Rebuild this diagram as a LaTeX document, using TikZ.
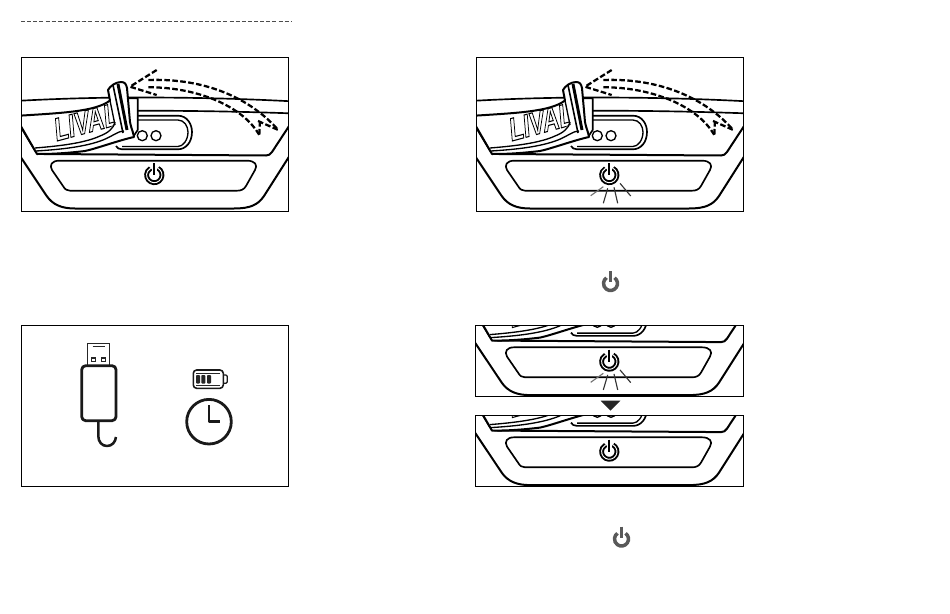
\documentclass[tikz,border=0pt]{standalone}
\usepackage{fontspec}
\setsansfont{Liberation Sans}
\usetikzlibrary{calc}
\newcommand{\outlinetext}[1]{\special{pdf:code q 1 Tr 0.8 w}#1\special{pdf:code Q}}
\tikzset{
  panelbox/.style={draw=black,line width=0.8pt},
  bandline/.style={draw=black,line width=1.25pt,line join=round},
  flapline/.style={draw=black,fill=white,line width=1.5pt,line join=round},
  thinline/.style={draw=black,line width=1pt},
  plugline/.style={draw=black!85,line width=0.6pt},
  movearrow/.style={draw=black,line width=1.7pt,dash pattern={on 4.2pt off 1.8pt}},
  rayline/.style={draw=black!80,line width=0.85pt},
  usbline/.style={draw=black!90,line width=2.1pt,line join=round},
  greyicon/.style={draw=black!65,line width=2.6pt}
}
% lower part of the helmet light, drawn at the place of the first panel
\newcommand{\lightfront}{%
  %Outer shell
  \draw [bandline,line width=1.5pt] (18,153) -- (46.7,196) .. controls (53,205) and (62,208.5) .. (75,208.5) -- (234,208.5) .. controls (250,208.5) and (258,205) .. (264,196) -- (292,152);
  %Button plate
  \draw [bandline] (59,160.7) -- (247,160.7) .. controls (255,160.7) and (258,165) .. (255,170) -- (246,186) .. controls (244,189.5) and (241,190.7) .. (237,190.7) -- (70,190.7) .. controls (67,190.7) and (65,189.5) .. (63,186) -- (52,170) .. controls (49,165) and (52,160.7) .. (59,160.7) -- cycle;
  \powerring{154.3}{175}
}
\newcommand{\powerring}[2]{%
  \draw [line width=3.6pt,black] ([shift={(-62:7.7)}]#1,#2) arc [start angle=-62,end angle=242,radius=7.7];
  \draw [line width=0.7pt,white] ([shift={(-62:7.7)}]#1,#2) arc [start angle=-62,end angle=242,radius=7.7];
  \draw [line width=3.4pt,white] (#1,#2-12) -- (#1,#2);
  \draw [line width=1.6pt,black] (#1,#2-12) -- (#1,#2);
}
\newcommand{\lightrear}{%
  %Top of the shell
  \draw [bandline] (15,101) .. controls (60,98.5) and (100,97.5) .. (140,97.5) .. controls (190,97.5) and (240,98.5) .. (295,101.5);
  \draw [bandline] (138,110.7) .. controls (190,110.7) and (240,111.5) .. (295,113.5);
  \draw [bandline,line width=1.5pt] (15,117) -- (33,147) .. controls (36,153) and (38,154) .. (44,154) -- (266,155.5) .. controls (269,155.5) and (270,154.5) .. (272,152) -- (295,117);
  %Pill with the two lamps
  \draw [bandline] (137,115.7) -- (178,115.7) .. controls (187,115.7) and (192,124) .. (192,132) .. controls (192,142) and (186,149.3) .. (178,149.3) -- (122,149.3) .. controls (119,149.3) and (117,148) .. (116,146);
  \draw [thinline] (137,120) -- (178,120) .. controls (184,120) and (188,126) .. (188,132) .. controls (188,140) and (183,146.5) .. (178,146.5) -- (122,146.5);
  \draw [thinline] (142.3,135.7) circle [radius=5];
  \draw [thinline] (156,135.7) circle [radius=5];
  %Hinge
  \draw [bandline] (125,98.3) -- (137.7,98.3) -- (137.7,130) -- (133,137);
  %Rubber flap
  \draw [flapline] (15,116) .. controls (60,113) and (95,112) .. (110,100.5) -- (108,90) .. controls (110,86) and (116,82) .. (121,82) .. controls (125,82) and (126,84) .. (127,88) -- (130,122) .. controls (131,128) and (133,131) .. (134,137) .. controls (120,140) and (95,149) .. (85,151) .. controls (60,154) and (45,154) .. (37,154) -- (15,116) -- cycle;
  \draw [thinline] (35,148) .. controls (60,146) and (85,143) .. (100,136) .. controls (108,133) and (114,128) .. (115,122);
  \draw [thinline] (36,151) .. controls (60,149.5) and (85,147) .. (103,140) .. controls (113,136) and (118,131) .. (124,131);
  \draw [line width=2.2pt] (118,84) -- (127,130);
  \draw [line width=1.2pt] (113,85) -- (123,133);
  \draw [thinline] (110,100.5) -- (115,125);
  \begin{scope}
    \clip (20,95) -- (110,95) -- (115,125) -- (60,150) -- (20,150) -- cycle;
    \node (brand) at (93,120) [yscale=-1,rotate=15,xslant=0.18,xscale=0.72,transform shape,inner sep=0pt] {\fontsize{24}{24}\selectfont\sffamily\bfseries\outlinetext{LIVALL}};
  \end{scope}
}
\newcommand{\movearrows}{%
  \draw [movearrow] (148.3,80) .. controls (205,78) and (250,98) .. (278.3,130);
  \draw [movearrow] (148.3,87.3) .. controls (195,87) and (242,105) .. (259.3,135);
  \draw [movearrow] (156.7,70) -- (130,86.7) -- (156.7,95);
  \draw [movearrow] (258,121) -- (278.3,130);
  \draw [movearrow] (260,121) -- (259.3,135);
}
\newcommand{\lightrays}{%
  \draw [rayline,black!55] (148.3,186.7) -- (135.7,195.7);
  \draw [rayline] (152.7,188.3) -- (148.3,203.3);
  \draw [rayline] (159,187.3) -- (162.7,203.3);
  \draw [rayline] (165,183.3) -- (175.7,196);
}
\begin{document}
\begin{tikzpicture}[x=0.75pt,y=0.75pt,yscale=-1,xscale=1]
\path [use as bounding box,fill=white] (0,0) rectangle (950,614);

%Dashed rule
\draw [line width=0.6pt,black!70,dash pattern={on 3pt off 1.6pt}] (21,21) -- (292,21);

%Panel top left
\begin{scope}
  \clip (21.7,57.5) rectangle (288.3,211.5);
  \lightrear
  \lightfront
  \movearrows
\end{scope}
\draw [panelbox] (21.7,57.5) rectangle (288.3,211.5);

%Panel top right
\begin{scope}
  \clip (476.7,57.5) rectangle (743.3,211.5);
  \begin{scope}[shift={(455,0)}]
    \lightrear
    \lightfront
    \movearrows
    \lightrays
  \end{scope}
\end{scope}
\draw [panelbox] (476.7,57.5) rectangle (743.3,211.5);

%Grey power icons
\draw [greyicon] ([shift={(-55:7)}]610.5,283.5) arc [start angle=-55,end angle=235,radius=7];
\draw [greyicon] (610.5,271) -- (610.5,282);
\draw [greyicon] ([shift={(-55:7)}]621.5,539) arc [start angle=-55,end angle=235,radius=7];
\draw [greyicon] (621.5,526.5) -- (621.5,537.5);

%Panel bottom left
\draw [panelbox] (21.7,325.3) rectangle (288.3,486.3);
%Usb plug
\draw [plugline] (87.7,365) -- (87.7,343.3) -- (109.3,343.3) -- (109.3,365);
\draw [plugline] (92.7,346) -- (105,346);
\draw [plugline,line width=0.8pt] (91.5,358) rectangle (95.8,361.3);
\draw [plugline,line width=0.8pt] (101.5,358) rectangle (105.8,361.3);
\draw [usbline,rounded corners=3pt] (81.7,365.7) rectangle (116,420.7);
\draw [usbline,line width=1.9pt] (98.3,420.7) -- (98.3,436) .. controls (98.3,442) and (102,446) .. (107,446) .. controls (112,446) and (115.5,442) .. (116,437);
%Battery
\draw [usbline,line width=1.2pt,rounded corners=2.5pt] (193.3,370) rectangle (223.3,388.3);
\draw [usbline,line width=0.9pt,rounded corners=1pt] (223.3,375) -- (227.3,375) -- (227.3,383.3) -- (223.3,383.3);
\foreach \cellx in {196,201.3,207}
  \fill [black!85,rounded corners=0.6pt] (\cellx,375) rectangle (\cellx+4,383.5);
\draw [plugline,line width=0.5pt] (196,373) -- (220,373);
\draw [plugline,line width=0.5pt] (196,385.5) -- (220,385.5);
%Clock
\draw [usbline] (209,421.7) circle [radius=22.3];
\draw [usbline,line cap=butt] (209,405) -- (209,421.7) -- (220,421.7);

%Panel bottom right, two parts
\begin{scope}
  \clip (475.7,325.7) rectangle (743.3,396.5);
  \begin{scope}[shift={(455,186.6)}]
    \lightrear
    \lightfront
    \lightrays
  \end{scope}
\end{scope}
\draw [panelbox] (475.7,325.7) rectangle (743.3,396.5);
\fill [black!85] (600.7,400.7) -- (620.3,400.7) -- (610.5,410.7) -- cycle;
\begin{scope}
  \clip (475.7,415.7) rectangle (743.3,486.3);
  \begin{scope}[shift={(455,276.6)}]
    \lightrear
    \lightfront
  \end{scope}
\end{scope}
\draw [panelbox] (475.7,415.7) rectangle (743.3,486.3);

\end{tikzpicture}
\end{document}
